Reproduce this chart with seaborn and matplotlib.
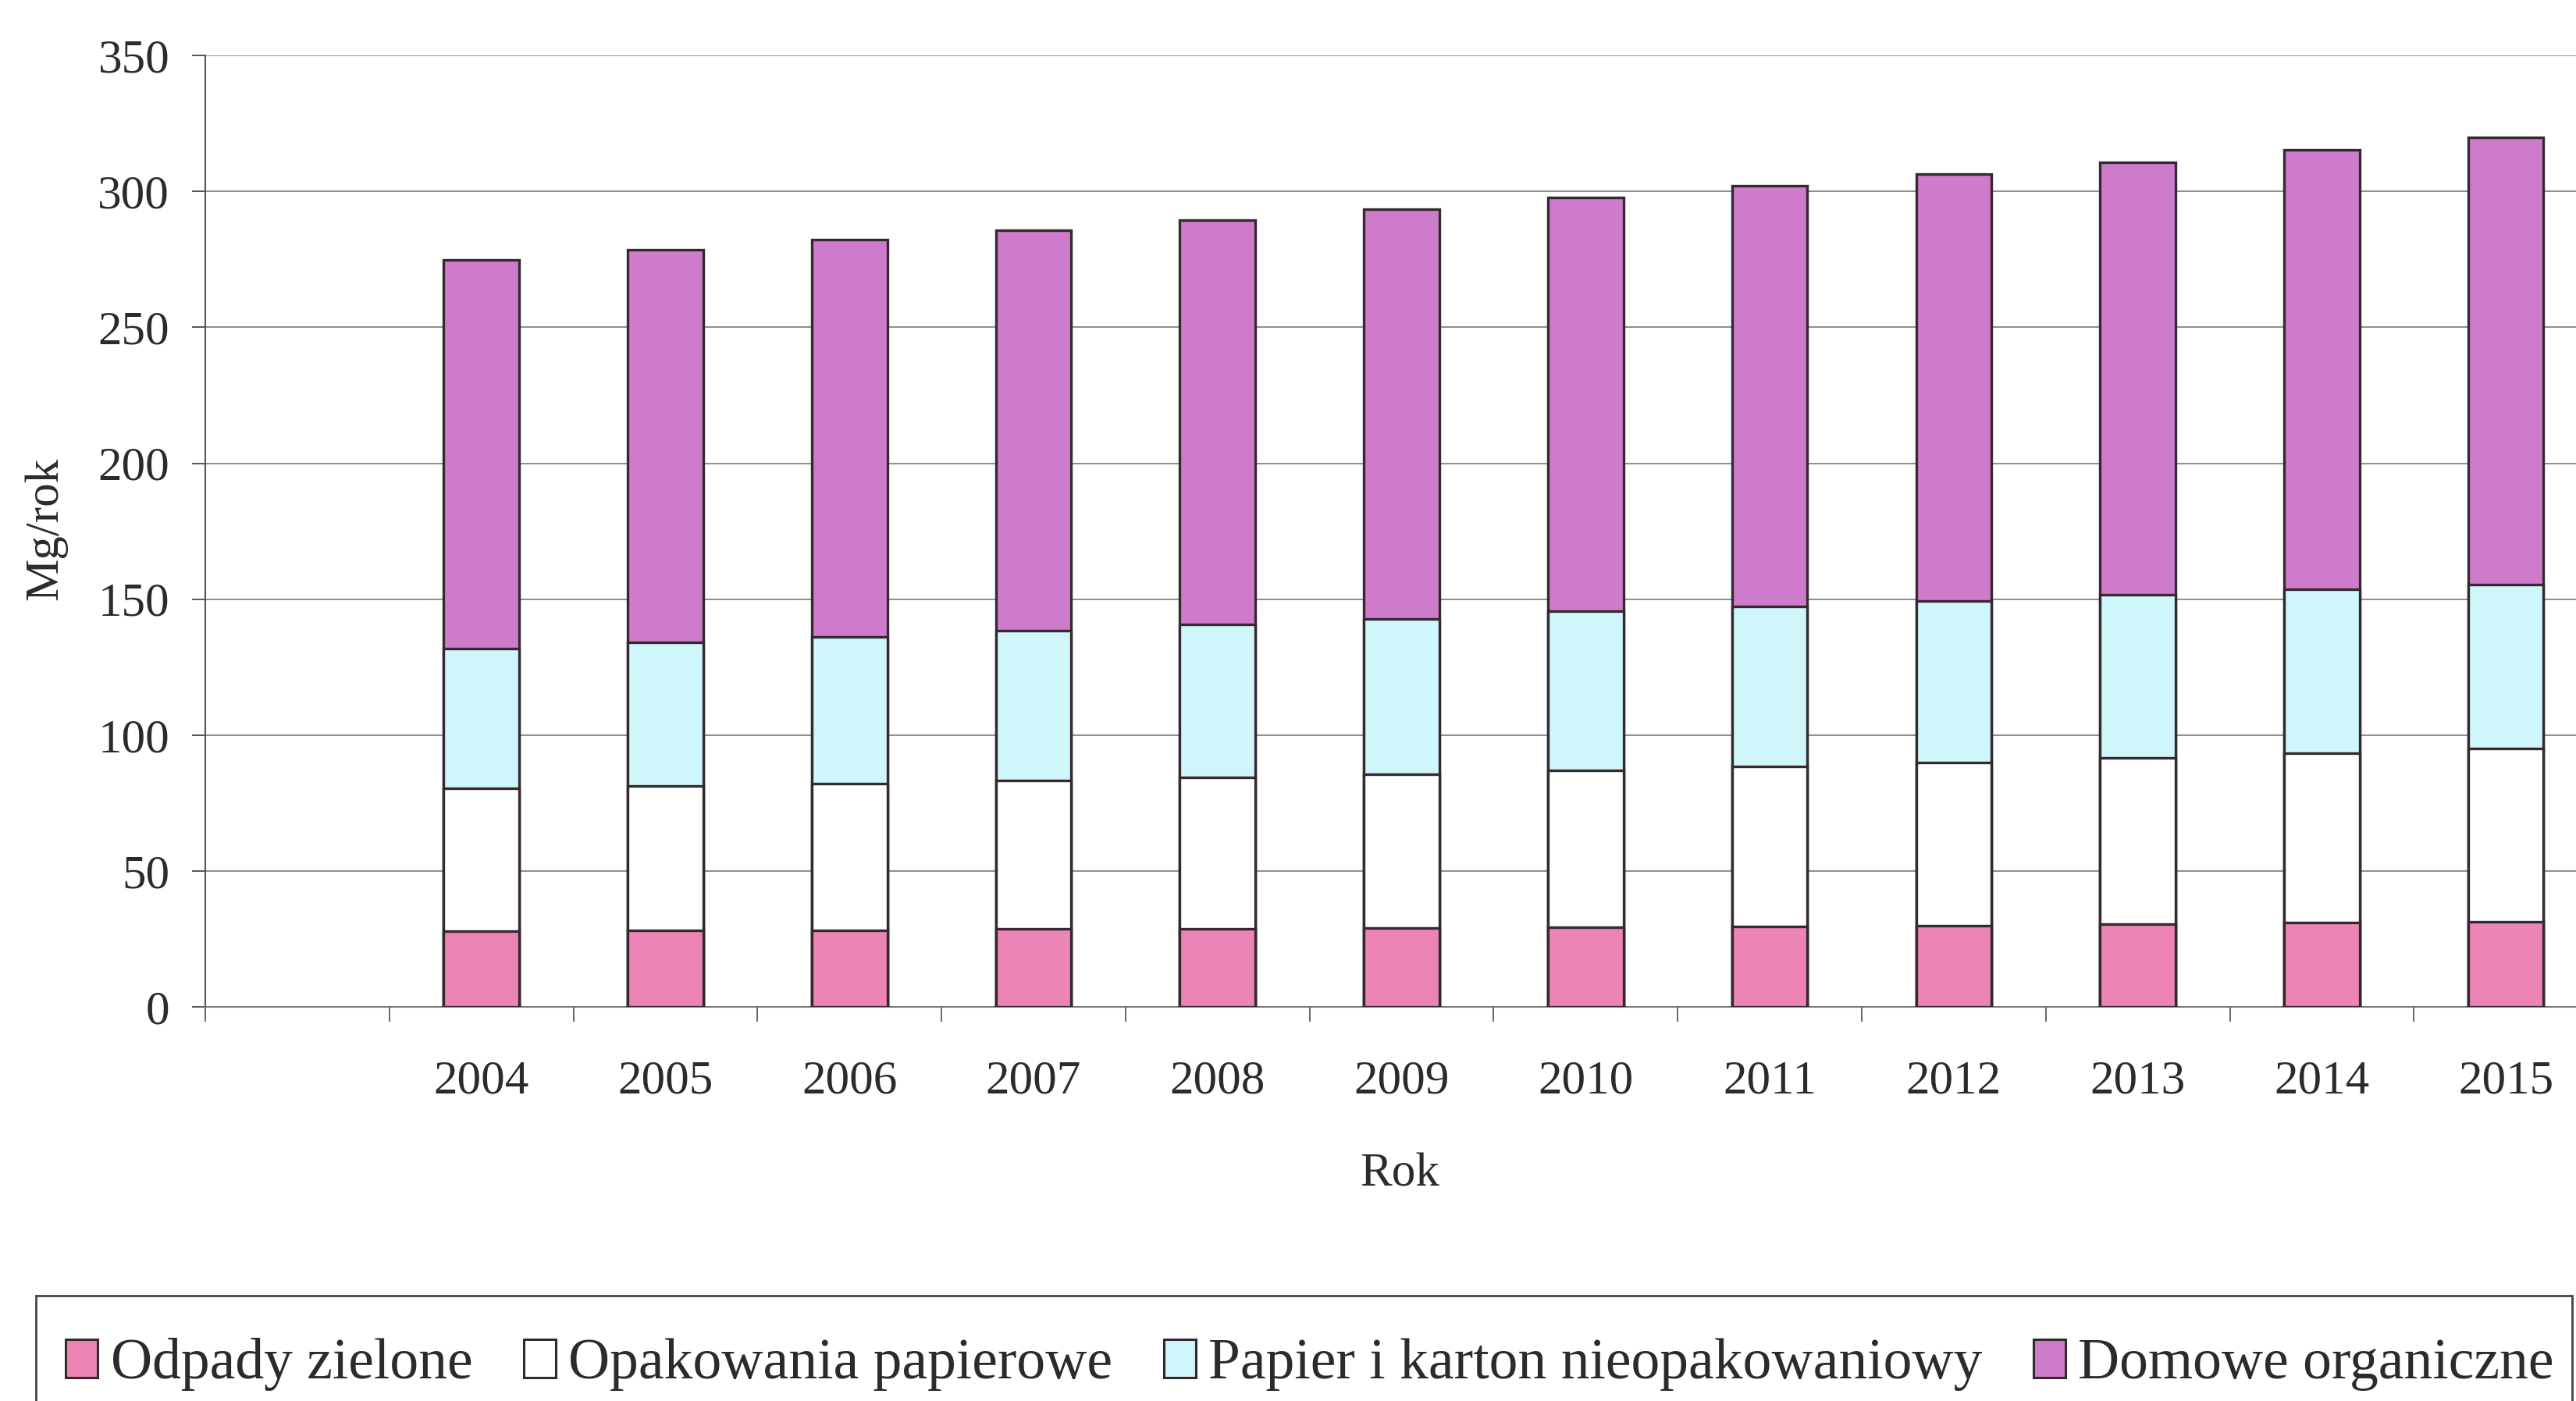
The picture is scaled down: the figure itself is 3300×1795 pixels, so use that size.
import numpy as np
import pandas as pd
import matplotlib
matplotlib.use("Agg")
import matplotlib.pyplot as plt
import seaborn as sns
from matplotlib.patches import Rectangle, Patch
from matplotlib.ticker import FixedLocator

# Annual mass of each waste stream, Mg/rok
years = ["2004", "2005", "2006", "2007", "2008", "2009",
         "2010", "2011", "2012", "2013", "2014", "2015"]
odpady_zielone = [27.9, 28.1, 28.3, 28.6, 28.8, 29.1, 29.4, 29.6, 30.0, 30.5, 30.9, 31.3]
opakowania_papierowe = [52.4, 53.1, 53.8, 54.7, 55.6, 56.6, 57.7, 58.9, 59.9, 61.1, 62.5, 63.7]
papier_karton = [51.5, 52.8, 53.9, 55.2, 56.2, 57.1, 58.4, 58.8, 59.4, 59.9, 60.2, 60.3]
domowe_organiczne = [142.9, 144.6, 146.2, 147.3, 148.8, 150.8, 152.3, 154.7, 157.0, 159.3, 161.7, 164.6]

series_names = ["Odpady zielone", "Opakowania papierowe",
                "Papier i karton nieopakowaniowy", "Domowe organiczne"]
series_colors = ["#EC84B6", "#FFFFFF", "#CFF6FA", "#CE7BCB"]
y_ticks = [0, 50, 100, 150, 200, 250, 300, 350]

df = pd.DataFrame({
    "Rok": years,
    series_names[0]: odpady_zielone,
    series_names[1]: opakowania_papierowe,
    series_names[2]: papier_karton,
    series_names[3]: domowe_organiczne,
})

sns.set_theme(style="white")
plt.rcParams["font.family"] = ["Liberation Serif", "DejaVu Serif"]
text_color = "#2b2b2b"
edge_color = "#35282f"

fig = plt.figure(figsize=(33, 17.95), dpi=100)
fig.patch.set_facecolor("white")
ax = fig.add_axes([0.0797, 0.2813, 1.0085 - 0.0797, 0.9604 - 0.2813])
ax.set_facecolor("white")

# stacked bars: draw cumulative totals from the top layer down
cum = df[series_names].cumsum(axis=1)
for name, color in reversed(list(zip(series_names, series_colors))):
    sns.barplot(x=df["Rok"], y=cum[name], order=years, color=color,
                saturation=1, width=0.41, edgecolor=edge_color,
                linewidth=2.4, ax=ax, zorder=3)

ax.set_xlim(-1.5, len(years) - 0.5)
ax.set_ylim(0, 350)
ax.yaxis.set_major_locator(FixedLocator(y_ticks))
ax.grid(axis="y", color="#8c8c8c", linewidth=1.4, zorder=0)
ax.grid(axis="x", visible=False)

# category boundaries carry the tick marks, labels sit at bar centres
ax.set_xticks(range(len(years)))
ax.set_xticklabels(years)
ax.set_xticks(np.arange(-1.5, len(years), 1.0), minor=True)
ax.tick_params(axis="x", which="major", length=0, pad=49,
               labelsize=44, labelcolor=text_color)
ax.tick_params(axis="x", which="minor", length=14, width=1.4,
               color="#666666", direction="out", bottom=True)
ax.tick_params(axis="y", which="major", length=12, width=1.4,
               color="#555555", direction="out", left=True,
               pad=21, labelsize=44, labelcolor=text_color)

for side in ("top", "right"):
    ax.spines[side].set_visible(False)
ax.spines["left"].set_color("#555555")
ax.spines["left"].set_linewidth(1.5)
ax.spines["bottom"].set_color("#777777")
ax.spines["bottom"].set_linewidth(1.5)
ax.set_xlabel("")
ax.set_ylabel("")

fig.text(1793 / 3300, 1 - 1505 / 1795, "Rok", ha="center", va="center",
         fontsize=44, color=text_color)
fig.text(59 / 3300, 1 - 677 / 1795, "Mg/rok", ha="center", va="center",
         rotation=90, fontsize=44, color=text_color)

# legend strip along the bottom edge
handles = [Patch(facecolor=c, edgecolor=edge_color, linewidth=2.2)
           for c in series_colors]
fig.legend(handles, series_names, ncol=4, loc="center left",
           bbox_to_anchor=(0.0255, 0.026), frameon=False,
           fontsize=53, handlelength=0.56, handleheight=0.63,
           handletextpad=0.22, columnspacing=0.89, borderpad=0,
           borderaxespad=0, labelcolor=text_color)
fig.add_artist(Rectangle((46 / 3300, -0.05), 3295 / 3300 - 46 / 3300,
                         0.05 + 1 - 1660 / 1795, transform=fig.transFigure,
                         facecolor="none", edgecolor="#444444",
                         linewidth=2.0, clip_on=False))

fig.savefig("out.png", dpi=100, facecolor="white")
